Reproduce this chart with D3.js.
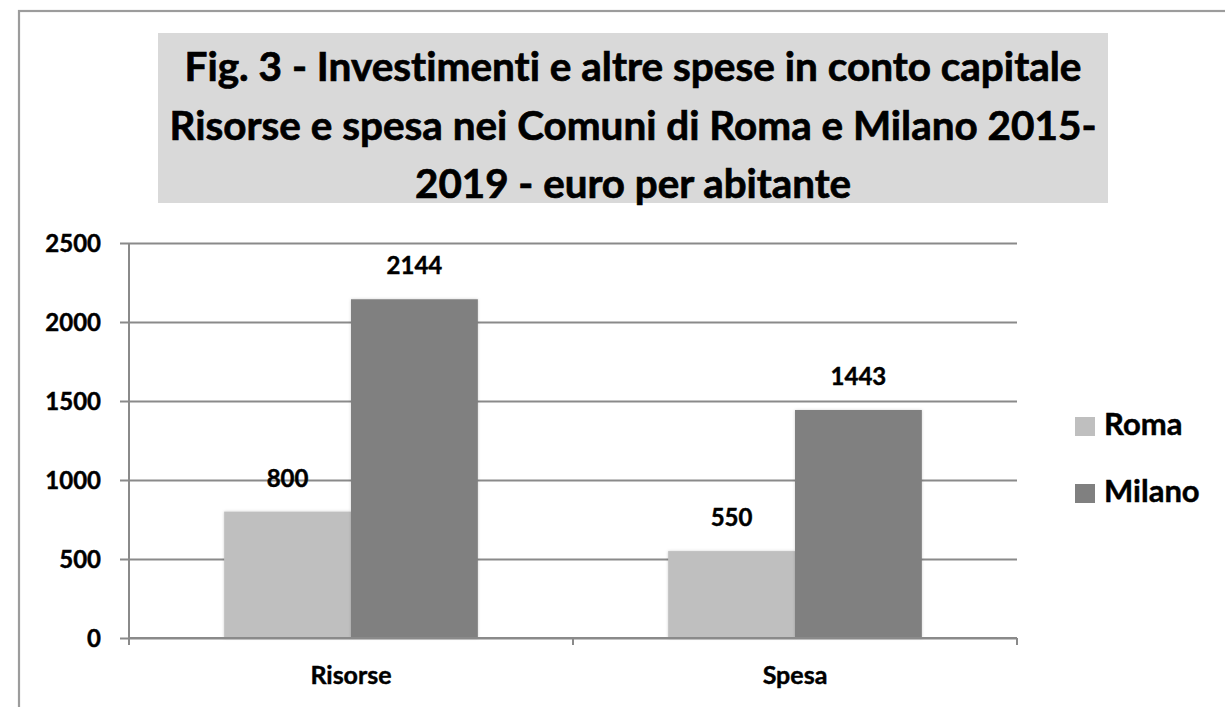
<!DOCTYPE html>
<html>
<head>
<meta charset="utf-8">
<script src="https://cdn.jsdelivr.net/npm/d3@7"></script>
<style>
  html, body { margin: 0; padding: 0; background: #ffffff; }
  svg { display: block; }
  text { font-family: Lato, "Open Sans", sans-serif; font-weight: 700; fill: #000;
         font-variant-ligatures: none; font-feature-settings: "liga" 0, "clig" 0;
         stroke: #000; stroke-width: 0.45px; }
</style>
</head>
<body>
<svg id="chart" width="1225" height="707"></svg>
<script>
// ---- data ----
const titleLines = [
  "Fig. 3 - Investimenti e altre spese in conto capitale",
  "Risorse e spesa nei Comuni di Roma e Milano 2015-",
  "2019 - euro per abitante"
];
const categories = ["Risorse", "Spesa"];
const seriesNames = ["Roma", "Milano"];
const romaValues = [800, 550];
const milanoValues = [2144, 1443];
const yTicks = [0, 500, 1000, 1500, 2000, 2500];
const seriesColors = ["#bfbfbf", "#808080"];

// ---- layout ----
const svg = d3.select("#chart");
const plot = { left: 129, right: 1017, top: 243, bottom: 638 };

const defs = svg.append("defs");
const f = defs.append("filter").attr("id", "shadow")
  .attr("x", "-10%").attr("y", "-10%").attr("width", "120%").attr("height", "120%");
f.append("feDropShadow").attr("dx", 0).attr("dy", 0).attr("stdDeviation", 1.5)
  .attr("flood-color", "#000").attr("flood-opacity", 0.18);

// outer frame (cropped at right and bottom)
svg.append("rect")
  .attr("x", 19).attr("y", 11).attr("width", 1400).attr("height", 900)
  .attr("fill", "#fff").attr("stroke", "#9c9c9c").attr("stroke-width", 2.2);

// title box
svg.append("rect")
  .attr("x", 158).attr("y", 33).attr("width", 950).attr("height", 170)
  .attr("fill", "#d9d9d9");

const titleWidths = [897, 927, 436];
const titleBaselines = [81, 140, 198];
const titleTexts = svg.append("g").selectAll("text")
  .data(titleLines).join("text")
  .attr("x", 633).attr("y", (d, i) => titleBaselines[i])
  .attr("text-anchor", "middle")
  .style("font-size", "41px")
  .style("stroke-width", "0.7px")
  .text(d => d);

titleTexts.each(function (d, i) {
  d3.select(this).attr("textLength", titleWidths[i]).attr("lengthAdjust", "spacingAndGlyphs");
});
function fitWidth(sel, widthFn) {
  sel.each(function (d, i) {
    d3.select(this).attr("textLength", widthFn(d, i)).attr("lengthAdjust", "spacingAndGlyphs");
  });
}

// scales
const y = d3.scaleLinear().domain([0, 2500]).range([plot.bottom, plot.top]);
const x0 = d3.scaleBand().domain(categories).range([plot.left, plot.right]).paddingInner(0).paddingOuter(0);
const x1 = d3.scaleBand().domain(seriesNames).range([0, x0.bandwidth()]).paddingInner(0).paddingOuter(0.75);
const color = d3.scaleOrdinal().domain(seriesNames).range(seriesColors);

// gridlines + y axis via d3.axisLeft
const yAxis = svg.append("g").attr("transform", `translate(${plot.left},0)`)
  .call(d3.axisLeft(y).tickValues(yTicks).tickSize(-(plot.right - plot.left)).tickPadding(0).tickFormat(d3.format("d")));
yAxis.select(".domain").remove();
yAxis.selectAll(".tick line").attr("stroke", "#8a8a8a").attr("stroke-width", 2)
  .attr("x1", -9);
yAxis.selectAll(".tick text").attr("x", -28).attr("dy", "0.36em")
  .style("font-size", "24px").style("font-family", "Lato, 'Open Sans', sans-serif")
  .style("font-weight", 700);

// y axis vertical line
svg.append("line")
  .attr("x1", plot.left).attr("x2", plot.left)
  .attr("y1", plot.top).attr("y2", plot.bottom + 7)
  .attr("stroke", "#8a8a8a").attr("stroke-width", 2);

// bars
const groups = svg.append("g").selectAll("g")
  .data(categories.map((c, i) => ({ cat: c, vals: [romaValues[i], milanoValues[i]] })))
  .join("g")
  .attr("transform", d => `translate(${x0(d.cat)},0)`);

groups.selectAll("rect")
  .data(d => d.vals.map((v, j) => ({ name: seriesNames[j], value: v })))
  .join("rect")
  .attr("x", d => x1(d.name))
  .attr("y", d => y(d.value))
  .attr("width", x1.bandwidth())
  .attr("height", d => y(0) - y(d.value))
  .attr("fill", d => color(d.name))
  .attr("filter", "url(#shadow)");

// x axis (baseline with category tick marks)
const xAxisScale = d3.scalePoint().domain([0, 1, 2]).range([plot.left, plot.right]);
svg.append("line")
  .attr("x1", plot.left).attr("x2", plot.right)
  .attr("y1", plot.bottom).attr("y2", plot.bottom)
  .attr("stroke", "#8a8a8a").attr("stroke-width", 2);
svg.append("g").selectAll("line")
  .data([0, 1, 2]).join("line")
  .attr("x1", d => xAxisScale(d)).attr("x2", d => xAxisScale(d))
  .attr("y1", plot.bottom).attr("y2", plot.bottom + 7)
  .attr("stroke", "#8a8a8a").attr("stroke-width", 2);

svg.append("g").selectAll("text")
  .data(categories).join("text")
  .attr("x", d => x0(d) + x0.bandwidth() / 2)
  .attr("y", 684)
  .attr("text-anchor", "middle")
  .style("font-size", "25px")
  .text(d => d);

// value labels
groups.selectAll("text.val")
  .data(d => d.vals.map((v, j) => ({ name: seriesNames[j], value: v })))
  .join("text").attr("class", "val")
  .attr("x", d => x1(d.name) + x1.bandwidth() / 2)
  .attr("y", d => y(d.value) - 25)
  .attr("text-anchor", "middle")
  .style("font-size", "24px")
  .text(d => d.value);

// legend
const legendY = [435, 502];
const legend = svg.append("g").selectAll("g")
  .data(seriesNames).join("g");
legend.append("rect")
  .attr("x", 1075).attr("y", (d, i) => legendY[i] - 18)
  .attr("width", 20).attr("height", 19)
  .attr("fill", d => color(d));
legend.append("text")
  .attr("x", 1104).attr("y", (d, i) => legendY[i])
  .style("font-size", "31px")
  .text(d => d);
</script>
</body>
</html>
